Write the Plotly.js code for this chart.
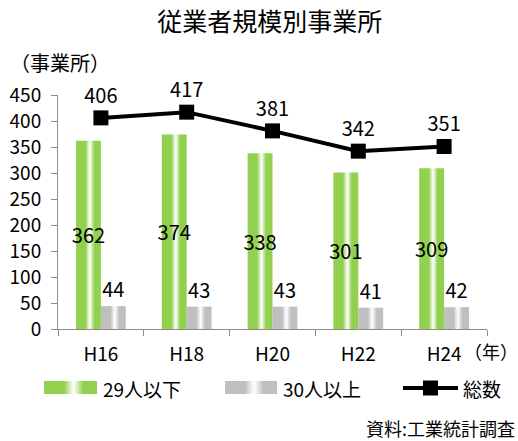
<!DOCTYPE html>
<html>
<head>
<meta charset="utf-8">
<script src="https://cdn.plot.ly/plotly-3.0.1.min.js"></script>
<style>html,body{margin:0;padding:0;background:#fff;}#chart{width:518px;height:441px;}</style>
</head>
<body>
<div id="chart"></div>
<script>
const years = ['H16', 'H18', 'H20', 'H22', 'H24'];
const small = [362, 374, 338, 301, 309];   // 29人以下
const large = [44, 43, 43, 41, 42];        // 30人以上
const total = [406, 417, 381, 342, 351];   // 総数
const seriesNames = ['29人以下', '30人以上', '総数'];

const F = '"Noto Sans CJK JP", "Noto Sans", sans-serif';
const GREEN = '#92D050', GRAY = '#BFBFBF', AX = '#8c8c8c';

const traces = [
  {type: 'bar', name: seriesNames[0], x: years, y: small, marker: {color: GREEN},
   text: small.map(String), textposition: 'inside', insidetextanchor: 'middle',
   textangle: 0, constraintext: 'none', textfont: {family: F, size: 20, color: '#000'},
   cliponaxis: false, hoverinfo: 'none'},
  {type: 'bar', name: seriesNames[1], x: years, y: large, marker: {color: GRAY},
   text: large.map(String), textposition: 'outside', textangle: 0, constraintext: 'none',
   textfont: {family: F, size: 20, color: '#000'}, cliponaxis: false, hoverinfo: 'none'},
  {type: 'scatter', name: seriesNames[2], x: years, y: total, mode: 'lines+markers+text',
   line: {color: '#000', width: 4}, marker: {symbol: 'square', size: 15, color: '#000'},
   text: total.map(String), textposition: 'top center',
   textfont: {family: F, size: 20, color: '#000'}, cliponaxis: false, hoverinfo: 'none'}
];

// paper coordinates helper (plot area: x 58..487, y 95..329 px)
const px = v => (v - 58) / 429;
const py = v => (329 - v) / 234;

const annFont = {family: F, size: 19, color: '#000'};
const layout = {
  width: 518, height: 441,
  margin: {l: 58, r: 31, t: 95, b: 112},
  paper_bgcolor: '#fff', plot_bgcolor: '#fff',
  font: {family: F, color: '#000'},
  showlegend: false,
  barmode: 'group', bargap: 0.42, bargroupgap: 0,
  title: {text: '従業者規模別事業所', font: {family: F, size: 25, color: '#000'},
          x: 0.521, xref: 'container', xanchor: 'center', y: 1 - 22 / 441, yanchor: 'middle'},
  xaxis: {type: 'category', showline: true, linecolor: AX, linewidth: 1,
          ticks: 'outside', tickson: 'boundaries', ticklen: 6, tickcolor: AX,
          tickfont: {family: F, size: 19, color: '#000'}, ticklabelstandoff: 8,
          showgrid: false, zeroline: false, fixedrange: true},
  yaxis: {range: [0, 450], tick0: 0, dtick: 50, showline: true, linecolor: AX, linewidth: 1,
          ticks: 'outside', ticklen: 6, tickcolor: AX, showgrid: false, zeroline: false,
          tickfont: {family: F, size: 19, color: '#000'}, ticklabelstandoff: 6, fixedrange: true},
  shapes: [
    {type: 'rect', xref: 'paper', yref: 'paper', x0: px(44), x1: px(97), y0: py(394), y1: py(381),
     fillcolor: GREEN, line: {width: 0}},
    {type: 'rect', xref: 'paper', yref: 'paper', x0: px(225), x1: px(277), y0: py(394), y1: py(381),
     fillcolor: GRAY, line: {width: 0}},
    {type: 'line', xref: 'paper', yref: 'paper', x0: px(403), x1: px(458), y0: py(388), y1: py(388),
     line: {color: '#000', width: 4}},
    {type: 'rect', xref: 'paper', yref: 'paper', x0: px(423), x1: px(438), y0: py(395.5), y1: py(380.5),
     fillcolor: '#000', line: {width: 0}}
  ],
  annotations: [
    {text: '（事業所）', xref: 'paper', yref: 'paper', x: px(60), y: py(62), xanchor: 'center', yanchor: 'middle',
     showarrow: false, font: {family: F, size: 20, color: '#000'}},
    {text: '（年）', xref: 'paper', yref: 'paper', x: px(491), y: py(351), xanchor: 'center', yanchor: 'middle',
     showarrow: false, font: {family: F, size: 18, color: '#000'}},
    {text: seriesNames[0], xref: 'paper', yref: 'paper', x: px(101), y: py(388), xanchor: 'left', yanchor: 'middle',
     showarrow: false, font: annFont},
    {text: seriesNames[1], xref: 'paper', yref: 'paper', x: px(281), y: py(388), xanchor: 'left', yanchor: 'middle',
     showarrow: false, font: annFont},
    {text: seriesNames[2], xref: 'paper', yref: 'paper', x: px(461), y: py(388), xanchor: 'left', yanchor: 'middle',
     showarrow: false, font: annFont},
    {text: '資料:工業統計調査', xref: 'paper', yref: 'paper', x: px(517), y: py(428), xanchor: 'right', yanchor: 'middle',
     showarrow: false, font: {family: F, size: 18, color: '#000'}}
  ]
};

function addGradient(svg, id, base, light) {
  const ns = 'http://www.w3.org/2000/svg';
  let defs = svg.querySelector('defs');
  if (!defs) { defs = document.createElementNS(ns, 'defs'); svg.insertBefore(defs, svg.firstChild); }
  const g = document.createElementNS(ns, 'linearGradient');
  g.setAttribute('id', id);
  g.setAttribute('x1', '0'); g.setAttribute('x2', '1'); g.setAttribute('y1', '0'); g.setAttribute('y2', '0');
  [[0, base], [0.38, base], [0.56, light], [0.74, base], [1, base]].forEach(([o, c]) => {
    const s = document.createElementNS(ns, 'stop');
    s.setAttribute('offset', o); s.setAttribute('stop-color', c);
    g.appendChild(s);
  });
  defs.appendChild(g);
}

Plotly.newPlot('chart', traces, layout, {staticPlot: true, displayModeBar: false}).then(gd => {
  const svg = gd.querySelector('svg.main-svg');
  addGradient(svg, 'gradGreen', GREEN, '#ffffff');
  addGradient(svg, 'gradGray', GRAY, '#ffffff');
  const barTraces = gd.querySelectorAll('.barlayer .trace');
  const ids = ['gradGreen', 'gradGray'];
  barTraces.forEach((t, i) => {
    t.querySelectorAll('.point path').forEach(p => { p.style.fill = 'url(#' + ids[i] + ')'; });
  });
  gd.querySelectorAll('.shapelayer path').forEach(p => {
    const idx = p.getAttribute('data-index');
    if (idx === '0') p.style.fill = 'url(#gradGreen)';
    if (idx === '1') p.style.fill = 'url(#gradGray)';
  });
});
</script>
</body>
</html>
